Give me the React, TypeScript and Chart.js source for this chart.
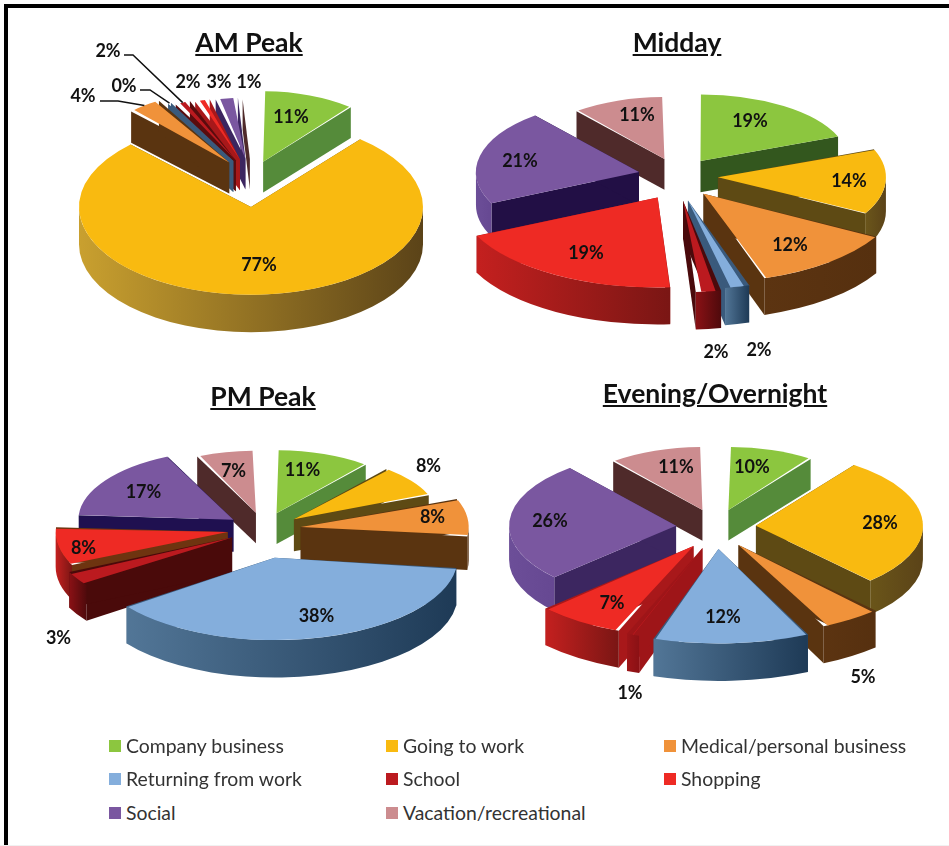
import React, { useEffect, useRef } from "react";
import { Chart, registerables } from "chart.js";

Chart.register(...registerables);

const categories = ["Company business", "Going to work", "Medical/personal business", "Returning from work", "School", "Shopping", "Social", "Vacation/recreational"];
const amPeak = [11, 77, 4, 0.4, 2, 2, 3, 1];
const midday = [19, 14, 12, 2, 2, 19, 21, 11];
const pmPeak = [11, 8, 8, 38, 3, 8, 17, 7];
const evening = [10, 28, 5, 12, 1, 7, 26, 11];

const faceColors = ["#8CC63F", "#F9BA10", "#F0923A", "#84AEDC", "#BB1A1F", "#EE2A24", "#7A57A0", "#CC8C8F"];
const wallColors = ["#558B3A", "#5E4A14", "#5A3410", "#3A5A7C", "#5A0C0E", "#A8181A", "#3C2660", "#4F2A2A"];
const rimLight = ["#5E9A42", "#C9A02F", "#5C3411", "#527697", "#8A1115", "#C4201F", "#6C4E98", "#8A5A5C"];
const rimDark = ["#4F8438", "#5B4318", "#56300F", "#1E3A56", "#4F0A0C", "#7A1614", "#664892", "#5A2C2C"];

type Leader = { from: [number, number]; elbow: [number, number]; slice: number };
type Pie = {
  title: string; titleAt: [number, number]; values: number[]; cx: number; cy: number; k: number; depth: number;
  radii: number[]; explode: number[]; lift: number[]; labels: [number, number][]; leaders?: Leader[];
  wallOverride?: Record<number, string>; rimOverride?: Record<number, [string, string]>;
};

const pies: Pie[] = [
  {
    title: "AM Peak", titleAt: [249, 42], values: amPeak, cx: 251, cy: 207, k: 0.51, depth: 34,
    radii: [138, 172, 140, 130, 125, 122, 120, 116],
    explode: [36, 0, 36, 36, 36, 36, 36, 36],
    lift: [-28, 0, -30, -30, -30, -30, -30, -30],
    labels: [[291, 117], [259, 265], [83, 96], [124, 86], [108, 51], [188, 82], [219, 82], [249, 82]],
    leaders: [
      { from: [100, 101], elbow: [118, 101], slice: 2 },
      { from: [140, 90], elbow: [150, 90], slice: 3 },
      { from: [124, 55], elbow: [133, 55], slice: 4 },
    ],
  },
  {
    title: "Midday", titleAt: [677, 42], values: midday, cx: 678, cy: 176, k: 0.45, depth: 34,
    radii: [148, 168, 197, 198, 203, 200, 163, 138],
    explode: [40, 40, 40, 40, 40, 40, 40, 40],
    lift: [0, 0, 4, 7, 7, 6, 0, 0],
    labels: [[750, 121], [849, 181], [790, 245], [759, 350], [716, 352], [586, 253], [520, 161], [637, 115]],
    wallOverride: { 0: "#33571E", 6: "#220F45", 4: "#4A0A0C" },
    rimOverride: { 1: ["#6B561B", "#5B4318"] },
  },
  {
    title: "PM Peak", titleAt: [263, 396], values: pmPeak, cx: 263.5, cy: 529, k: 0.45, depth: 34,
    radii: [140, 145, 168, 183, 180, 172, 155, 138],
    explode: [37, 37, 37, 43, 37, 37, 37, 37],
    lift: [0, 0, 0, 10, 0, 0, 0, 0],
    labels: [[302, 470], [428, 466], [432, 517], [316, 616], [58, 638], [83, 548], [143, 492], [233, 471]],
    wallOverride: { 6: "#1F1050", 4: "#4A0A0A", 5: "#6E3410" },
  },
  {
    title: "Evening/Overnight", titleAt: [715, 393], values: evening, cx: 716, cy: 527, k: 0.45, depth: 34,
    radii: [140, 167, 200, 210, 205, 203, 167, 140],
    explode: [40, 40, 40, 40, 40, 40, 40, 40],
    lift: [0, 0, 3, 4, 4, 4, 0, 0],
    labels: [[752, 467], [880, 523], [863, 677], [723, 617], [630, 693], [612, 603], [550, 521], [676, 467]],
    wallOverride: { 4: "#9E1518" },
    rimOverride: { 1: ["#6A5519", "#5B4318"], 4: ["#9E1518", "#8A1115"] },
  },
];

const legendColumns = [109, 386, 664];
const legendRows = [746, 779, 813];
const HALF = 270;
const LABEL_FONT = "bold 18px Lato";

function geometry(arc: any, k: number) {
  const off = (arc.options.offset || 0) / 4;
  const mid = (arc.startAngle + arc.endAngle) / 2;
  const fix = 1 - Math.sin(Math.min(Math.PI, arc.circumference || 0));
  return {
    off, mid,
    R: arc.outerRadius + off * fix,
    ox: arc.x + Math.cos(mid) * off,
    oy: HALF + (arc.y - HALF) * k + Math.sin(mid) * off * k,
  };
}

const piePlugin = {
  id: "pie3d",
  afterDatasetUpdate(chart: any, _a: any, opts: any) {
    const { pie } = opts as { pie: Pie };
    chart.getDatasetMeta(0).data.forEach((arc: any, i: number) => {
      const off = (arc.options.offset || 0) / 4;
      const fix = 1 - Math.sin(Math.min(Math.PI, arc.circumference || 0));
      arc.outerRadius = pie.radii[i] - off * fix;
      arc.y = arc.y + pie.lift[i] / pie.k;
    });
  },
  beforeDatasetsDraw(chart: any, _a: any, opts: any) {
    const { ctx } = chart;
    const { pie } = opts as { pie: Pie };
    const { k, depth } = pie;
    const meta = chart.getDatasetMeta(0);
    const order = meta.data
      .map((arc: any, i: number) => ({ arc, i, g: geometry(arc, k) }))
      .sort((a: any, b: any) => Math.sin(a.g.mid) - Math.sin(b.g.mid));
    for (const { arc, i, g } of order) {
      const { ox, oy, R } = g;
      const d = depth + 3.5 * Math.sin(g.mid);
      ctx.fillStyle = (pie.wallOverride && pie.wallOverride[i]) || wallColors[i];
      for (const a of [arc.startAngle, arc.endAngle]) {
        const px = ox + R * Math.cos(a);
        const py = oy + R * k * Math.sin(a);
        ctx.beginPath();
        ctx.moveTo(ox, oy);
        ctx.lineTo(px, py);
        ctx.lineTo(px, py + d);
        ctx.lineTo(ox, oy + d);
        ctx.closePath();
        ctx.fill();
      }
      const a0 = Math.max(arc.startAngle, 0);
      const a1 = Math.min(arc.endAngle, Math.PI);
      if (a1 > a0) {
        const xr = ox + R * Math.cos(a0);
        const xl = ox + R * Math.cos(a1);
        const grad = ctx.createLinearGradient(xl, 0, Math.max(xr, xl + 1), 0);
        const rim = (pie.rimOverride && pie.rimOverride[i]) || [rimLight[i], rimDark[i]];
        grad.addColorStop(0, rim[0]);
        grad.addColorStop(1, rim[1]);
        ctx.fillStyle = grad;
        ctx.beginPath();
        ctx.ellipse(ox, oy, R, R * k, 0, a0, a1);
        ctx.ellipse(ox, oy + d, R, R * k, 0, a1, a0, true);
        ctx.closePath();
        ctx.fill();
      }
    }
    ctx.save();
    ctx.translate(0, HALF);
    ctx.scale(1, k);
    ctx.translate(0, -HALF);
  },
  afterDatasetsDraw(chart: any, _a: any, opts: any) {
    const { ctx } = chart;
    ctx.restore();
    const { pie } = opts as { pie: Pie };
    const { k } = pie;
    const meta = chart.getDatasetMeta(0);
    const left = pie.cx - HALF;
    const top = pie.cy - HALF;
    ctx.strokeStyle = "#111";
    ctx.lineWidth = 1.5;
    (pie.leaders || []).forEach((l) => {
      const g = geometry(meta.data[l.slice], k);
      ctx.beginPath();
      ctx.moveTo(l.from[0] - left, l.from[1] - top);
      ctx.lineTo(l.elbow[0] - left, l.elbow[1] - top);
      ctx.lineTo(g.ox + g.R * Math.cos(g.mid), g.oy + g.R * k * Math.sin(g.mid));
      ctx.stroke();
    });
    ctx.fillStyle = "#111";
    ctx.font = LABEL_FONT;
    ctx.textAlign = "center";
    ctx.textBaseline = "middle";
    pie.values.forEach((v, i) => {
      const [x, y] = pie.labels[i];
      ctx.fillText(`${Math.round(v)}%`, x - left, y - top);
    });
  },
};

function PieChart({ pie }: { pie: Pie }) {
  const ref = useRef<HTMLCanvasElement>(null);
  useEffect(() => {
    const chart = new Chart(ref.current as HTMLCanvasElement, {
      type: "pie",
      data: {
        labels: categories,
        datasets: [{
          data: pie.values,
          backgroundColor: faceColors,
          borderWidth: 0,
          offset: pie.explode.map((e) => e * 4),
          radius: Math.max(...pie.radii),
          clip: false,
        } as any],
      },
      options: {
        responsive: false,
        animation: false,
        events: [],
        layout: { padding: 0 },
        plugins: {
          legend: { display: false },
          tooltip: { enabled: false },
          title: { display: false },
          pie3d: { pie },
        } as any,
      },
      plugins: [piePlugin as any],
    });
    return () => chart.destroy();
  }, [pie]);
  return (
    <canvas
      ref={ref}
      width={HALF * 2}
      height={HALF * 2}
      style={{ position: "absolute", left: pie.cx - HALF, top: pie.cy - HALF, width: HALF * 2, height: HALF * 2 }}
    />
  );
}

export default function App() {
  return (
    <div style={{ position: "fixed", left: 0, top: 0, width: 949, height: 846, overflow: "hidden", background: "#fff", fontFamily: "Lato" }}>
      <div style={{ position: "absolute", left: 4, top: 4, width: 945, height: 841, borderLeft: "4px solid #000", borderTop: "4px solid #000", boxSizing: "border-box" }} />
      <div style={{ position: "absolute", left: 0, top: 845, width: 949, height: 1, background: "#f1f1f1" }} />
      {pies.map((p) => <PieChart key={p.title} pie={p} />)}
      {pies.map((p) => (
        <div key={p.title} style={{ position: "absolute", left: p.titleAt[0] - 200, top: p.titleAt[1] - 20, width: 400, textAlign: "center", fontSize: 26.5, lineHeight: "40px", fontWeight: 700, color: "#111", textDecoration: "underline" }}>
          {p.title}
        </div>
      ))}
      {categories.map((c, i) => (
        <React.Fragment key={c}>
          <div style={{ position: "absolute", left: legendColumns[i % 3], top: legendRows[Math.floor(i / 3)] - 6, width: 12, height: 12, background: faceColors[i] }} />
          <div style={{ position: "absolute", left: legendColumns[i % 3] + 17, top: legendRows[Math.floor(i / 3)] - 12, fontSize: 19.4, lineHeight: "24px", color: "#333", whiteSpace: "nowrap" }}>{c}</div>
        </React.Fragment>
      ))}
    </div>
  );
}
